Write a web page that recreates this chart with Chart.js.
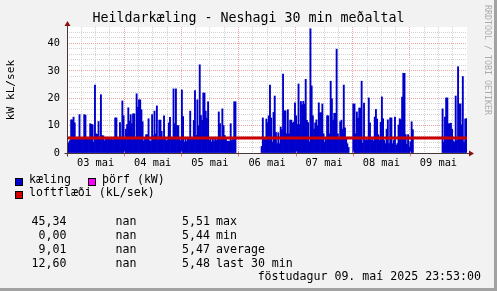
<!DOCTYPE html>
<html>
<head>
<meta charset="utf-8">
<script src="https://cdn.jsdelivr.net/npm/chart.js@4/dist/chart.umd.min.js"></script>
<style>
  html, body { margin: 0; padding: 0; background: #f2f2f2; }
  #wrap { position: relative; width: 497px; height: 291px; background: #f2f2f2; overflow: hidden;
          box-shadow: inset -3px -3px 0 #a2a2a2; font-family: 'DejaVu Sans Mono', monospace; color: #000; }
  #c { position: absolute; left: 0; top: 0; }
  .t { position: absolute; white-space: pre; font-size: 11.6px; line-height: 14px; }
  .r { text-align: right; }
  .sw { position: absolute; width: 8px; height: 8px; box-sizing: border-box; border: 1px solid #000; }
  #title { position: absolute; left: 0; width: 497px; top: 10px; text-align: center; font-size: 13.3px; line-height: 16px; white-space: pre; }
  #wm { position: absolute; left: 483px; top: 5px; writing-mode: vertical-rl; font-size: 8.3px; line-height: 9px; color: #ababab; white-space: pre; }
</style>
</head>
<body>
<div id="wrap">
  <canvas id="c" width="497" height="291"></canvas>
  <div id="title">Heildarkæling - Neshagi 30 min meðaltal</div>
  <div id="wm">RRDTOOL / TOBI OETIKER</div>

  <div class="sw" style="left:15px;top:178px;background:#0000cc"></div>
  <div class="t" style="left:29px;top:172px">kæling</div>
  <div class="sw" style="left:88px;top:178px;background:#ff00ff"></div>
  <div class="t" style="left:102px;top:172px">þörf (kW)</div>
  <div class="sw" style="left:15px;top:191px;background:#cc0000"></div>
  <div class="t" style="left:29px;top:185px">loftflæði (kL/sek)</div>

  <div id="stats"></div>
  <div class="t r" style="left:200px;width:281px;top:269px">föstudagur 09. maí 2025 23:53:00</div>
</div>
<script>
// kæling, 30 min meðaltöl (null = engin gögn)
const d03 = [4.2, 3.6, 4.5, 12.1, 12.1, 13.1, 11, 5, 5, 5, 14, 5, 5, 5, 14, 13.8, 5, 5, 5, 10.7, 10.5, 10.3, 4, 24.8,
             7, 6.8, 11.5, 5, 21.3, 6.3, 6.3, 4.5, 5.5, 5, 5, 5, 5, 5, 4.8, 5, 12.8, 12.8, 5, 5, 11.1, 5, 19, 13.6];
const d04 = [5, 8.7, 10.4, 16.5, 11.6, 14, 10.7, 14.3, 14.3, 5, 21.6, 16.7, 19.4, 19.4, 15.8, 11.4, 4.4, 5, 6.7, 6.7, 12.5, 4.5, 4.3, 14,
             6.3, 15.3, 7, 17.2, 5, 12, 12, 7.9, 5, 13.6, 5, 4.5, 4.8, 11, 13, 5.2, 5, 23.4, 10.7, 23.4, 10, 10, 5, 4.5];
const d05 = [23, 13.3, 4, 5, 4.2, 5, 5, 15.3, 5, 5, 11.9, 22.8, 6.4, 19.4, 10, 32.2, 13.7, 11.9, 21.9, 21.9, 15.3, 12.7, 18.7, 4.6,
             5, 4, 5, 4.3, 5, 4.6, 5, 15, 10.7, 5, 16.1, 10, 6.4, 5, 4.3, 4.3, 4.3, 10.7, 4.5, 5, 18.7, 18.7, null, null];
const d06 = [null, null, null, null, null, null, null, null, null, null, null, null, null, null, null, null, null, null, null, 2.4, 12.8, 5.2, 4.8, 12.4,
             11.1, 13.6, 24.8, 12.8, 4, 14.8, 20.8, 7.5, 3.4, 7.4, 3.4, 9.5, 8.5, 28.8, 15.4, 15.4, 7, 15.8, 7, 12, 12, 10.9, 11.3, 18.3];
const d07 = [13.6, 10.4, 25.2, 10.4, 18.8, 17.6, 18.9, 17.9, 26.9, 11.9, 11.1, 4, 45.34, 24.5, 13.6, 8.7, 11, 12.1, 9.9, 18.3, 14.7, 14.7, 17.9, 7,
             3.9, 5, 13.6, 13.6, 7, 26.2, 19.8, 12, 14.5, 14.5, 37.9, 7, 5, 11.4, 12, 8.7, 24.8, 9.2, 5, 3.4, 2, null, null, null];
const d08 = [17.9, 17.9, 7, 15, 12.7, 16.4, 16.4, 26.2, 3.6, 18.2, 4.6, 5, 4.6, 20.1, 11, 4.6, 5, 4.4, 13.1, 15.9, 12.4, 6.7, 4.6, 11.2,
             20.5, 12.5, 4.6, 3.4, 8.7, 12.1, 3.4, 12.8, 12.8, 3.4, 4.6, 13.1, 2.8, 3.4, 10.2, 12.5, 12.1, 20.4, 29.1, 29.1, 6.7, 3.2, 6.7, 2.2];
const d09 = [4.1, 11.4, 8.5, null, null, null, null, null, null, null, null, null, null, null, null, null, null, null, null, null, null, null, null, null,
             null, null, null, 16.1, 4, 13.1, 20.1, 20.1, 10.7, 10.7, 10.9, 8.7, 4.4, 4, 20.8, 4.6, 31.5, 17.9, 17.9, 10.3, 27.9, 4, 12.4, 12.6];

// loftflæði, á 6 klst fresti
const loftflaedi = [5.47, 5.48, 5.46, 5.49, 5.47, 5.45, 5.48, 5.50, 5.46, 5.44, 5.47, 5.49, 5.51, 5.47, 5.46,
                    5.48, 5.45, 5.47, 5.49, 5.46, 5.48, 5.47, 5.44, 5.46, 5.48, 5.50, 5.47, 5.48, 5.48];

// þörf (kW) - engin gögn (nan)
const thorf = [];

const dagar = ['03 mai', '04 mai', '05 mai', '06 mai', '07 mai', '08 mai', '09 mai'];

const statLabels = ['max', 'min', 'average', 'last 30 min'];
const statKaeling = ['45,34', '0,00', '9,01', '12,60'];
const statThorf = ['nan', 'nan', 'nan', 'nan'];
const statLoft = ['5,51', '5,44', '5,47', '5,48'];

// töflu-línur
const stats = document.getElementById('stats');
statLabels.forEach((lab, i) => {
  const top = 214 + i * 14.1;
  stats.insertAdjacentHTML('beforeend',
    `<div class="t r" style="left:0;width:66.5px;top:${top}px">${statKaeling[i]}</div>` +
    `<div class="t" style="left:115.5px;top:${top}px">${statThorf[i]}</div>` +
    `<div class="t r" style="left:150px;width:60px;top:${top}px">${statLoft[i]}</div>` +
    `<div class="t" style="left:216px;top:${top}px">${lab}</div>`);
});

// x í klst frá 03 mai 00:00, hver stöpull miðjaður á sínu hálftímabili
const kaeling = [].concat(d03, d04, d05, d06, d07, d08, d09);
const kaelingPts = kaeling.map((v, i) => ({ x: i * 0.5 + 0.25, y: v }));
const loftPts = loftflaedi.map((v, i) => ({ x: i * 6, y: v }));

const MAJOR = '#eda3a3';
const MINOR = '#d2d2d2';
const NONE = 'rgba(0,0,0,0)';

Chart.defaults.font.family = "'DejaVu Sans Mono', monospace";
Chart.defaults.color = '#000';

const rrdLook = {
  id: 'rrdLook',
  beforeDraw(chart) {
    const a = chart.chartArea, ctx = chart.ctx;
    ctx.save();
    ctx.fillStyle = '#fff';
    ctx.fillRect(a.left, a.top, a.right - a.left, a.bottom - a.top);
    ctx.restore();
  },
  afterDraw(chart) {
    const a = chart.chartArea, ctx = chart.ctx;
    const x0 = Math.round(a.left) + 0.5, y0 = Math.round(a.bottom) + 0.5;
    ctx.save();
    // smá merki við dagaskil
    const xs = chart.scales.x;
    ctx.strokeStyle = '#e08080';
    ctx.lineWidth = 1;
    for (let h = 24; h < 168; h += 24) {
      const px = Math.round(xs.getPixelForValue(h)) + 0.5;
      ctx.beginPath(); ctx.moveTo(px, y0 - 2); ctx.lineTo(px, y0 + 3); ctx.stroke();
    }
    ctx.strokeStyle = '#4a3636';
    ctx.beginPath();
    ctx.moveTo(x0, y0 + 3); ctx.lineTo(x0, a.top - 3);
    ctx.moveTo(x0 - 3, y0); ctx.lineTo(a.right + 3, y0);
    ctx.stroke();
    ctx.fillStyle = '#8b1010';
    ctx.beginPath();
    ctx.moveTo(x0, a.top - 6); ctx.lineTo(x0 - 3, a.top - 1); ctx.lineTo(x0 + 3, a.top - 1); ctx.closePath(); ctx.fill();
    ctx.beginPath();
    ctx.moveTo(a.right + 7, y0); ctx.lineTo(a.right + 2, y0 - 3); ctx.lineTo(a.right + 2, y0 + 3); ctx.closePath(); ctx.fill();
    ctx.restore();
  }
};

new Chart(document.getElementById('c'), {
  type: 'bar',
  data: {
    datasets: [
      {
        type: 'line',
        label: 'loftflæði (kL/sek)',
        data: loftPts,
        borderColor: '#cc0000',
        borderWidth: 3,
        stepped: 'before',
        pointRadius: 0,
        fill: false,
        order: 1
      },
      {
        type: 'bar',
        label: 'kæling',
        data: kaelingPts,
        backgroundColor: '#0000cc',
        borderWidth: 0,
        barPercentage: 1,
        categoryPercentage: 1,
        inflateAmount: 0.35,
        order: 2
      },
      {
        type: 'line',
        label: 'þörf (kW)',
        data: thorf,
        borderColor: '#ff00ff',
        pointRadius: 0,
        order: 3
      }
    ]
  },
  options: {
    responsive: false,
    devicePixelRatio: 1,
    animation: false,
    events: [],
    layout: { padding: { left: 0, top: 27, right: 30, bottom: 0 } },
    plugins: { legend: { display: false }, tooltip: { enabled: false }, title: { display: false } },
    scales: {
      x: {
        type: 'linear',
        min: 0,
        max: 168,
        offset: false,
        afterFit(s) { s.height = 138; },
        border: { display: false, dash: [1, 1] },
        grid: {
          offset: false,
          drawTicks: false,
          borderDash: [1, 1],
          color: (c) => {
            const v = c.tick.value;
            if (v <= 0 || v >= 168) return NONE;
            return v % 24 === 0 ? MAJOR : MINOR;
          }
        },
        ticks: {
          stepSize: 6,
          autoSkip: false,
          maxRotation: 0,
          padding: 4,
          font: { size: 10.3 },
          callback: (v) => (v % 24 === 12 ? dagar[(v - 12) / 24] : '')
        }
      },
      y: {
        min: 0,
        max: 46,
        afterFit(s) { s.width = 67; },
        border: { display: false, dash: [1, 1] },
        title: { display: true, text: 'kW kL/sek', font: { size: 11.2 }, padding: { top: 4, bottom: 0 } },
        grid: {
          drawTicks: false,
          borderDash: [1, 1],
          color: (c) => {
            const v = c.tick.value;
            if (v <= 0 || v > 44.5) return NONE;
            return v % 10 === 0 ? MAJOR : MINOR;
          }
        },
        ticks: {
          stepSize: 2,
          autoSkip: false,
          padding: 7,
          font: { size: 10.3 },
          callback: (v) => (v % 10 === 0 ? v : '')
        }
      }
    }
  },
  plugins: [rrdLook]
});
</script>
</body>
</html>
